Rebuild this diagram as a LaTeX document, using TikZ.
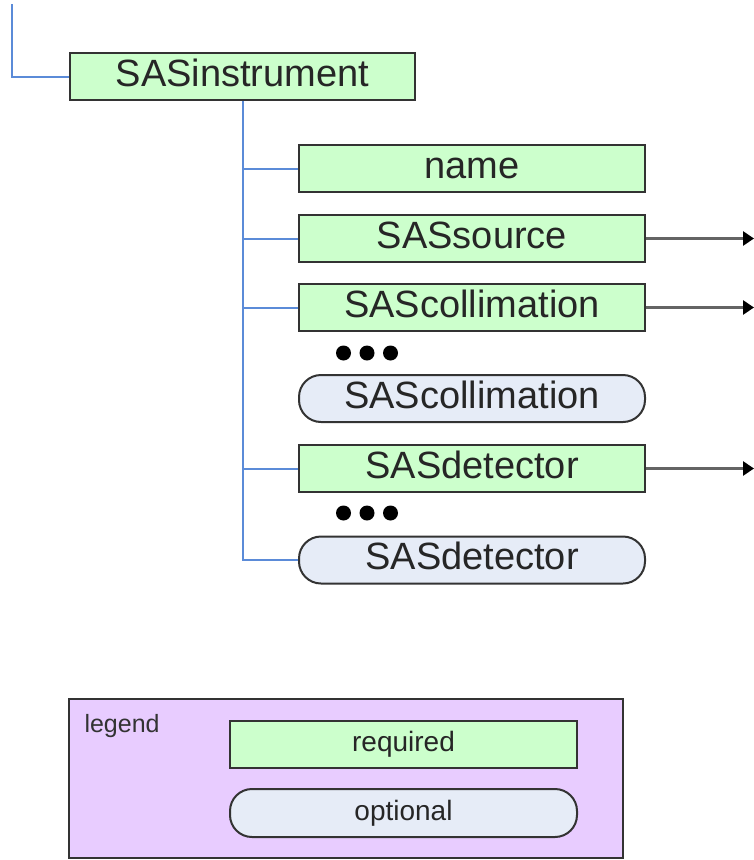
\documentclass[tikz,border=0pt]{standalone}
\usepackage{fontspec}
\setmainfont{Liberation Sans}
\usetikzlibrary{positioning, arrows.meta, calc}

\definecolor{reqgreen}{RGB}{204,255,204}
\definecolor{optblue}{RGB}{230,236,247}
\definecolor{legendlilac}{RGB}{232,204,255}
\definecolor{treeblue}{RGB}{91,139,216}
\definecolor{edgegray}{RGB}{51,51,51}
\definecolor{linkgray}{RGB}{100,100,100}

\begin{document}
\begin{tikzpicture}
    [
        x=1pt, y=-1pt,
        on grid,
        node distance=70pt and 70pt,
        req/.style={draw=edgegray, fill=reqgreen, rectangle, line width=2pt,
            minimum width=346pt, minimum height=47pt, inner sep=0pt,
            text height=28.5pt, text depth=9.5pt,
            font=\fontsize{38}{41}\selectfont, text=black!85},
        opt/.style={req, fill=optblue, rounded corners=22pt},
        smallreq/.style={req, minimum width=347pt, text height=21pt, text depth=7pt,
            font=\fontsize{28}{31}\selectfont},
        smallopt/.style={smallreq, fill=optblue, rounded corners=22pt, minimum height=48pt},
        tree/.style={draw=treeblue, line width=2pt},
        link/.style={draw=linkgray, line width=3pt,
            -{Triangle[length=11pt, width=14pt, color=black]}},
        ellip/.style={fill=black}
    ]
        \useasboundingbox (0,0) rectangle (753,860);
        % =========================================================================
        % NODES
        % =========================================================================
        % --- Parent ---
        \node [req, minimum width=345pt] (instr) at (242.5,76.5) {SASinstrument};
        \coordinate (root) at (12,4);
        % --- Children ---
        \node [req] (name) at (472,168.5) {name};
        \node [req, below=of name] (source) {SASsource};
        \node [req, below=69pt of source] (collim) {SAScollimation};
        \coordinate [below left=45.5pt and 105pt of collim] (dotsA);
        \node [opt, below=91pt of collim] (collimopt) {SAScollimation};
        \node [req, below=of collimopt] (detector) {SASdetector};
        \coordinate [below left=44.5pt and 105pt of detector] (dotsB);
        \node [opt, below=91.5pt of detector] (detectoropt) {SASdetector};
        % --- Legend ---
        \node [draw=edgegray, fill=legendlilac, line width=2pt, minimum width=554pt,
            minimum height=159pt] (legendbox) at (346,778.5) {};
        \node [anchor=base west, font=\fontsize{25}{28}\selectfont, text=black!80]
            (legendlabel) at ([xshift=13pt, yshift=-34pt]legendbox.north west) {legend};
        \node [smallreq] (legendreq) at (403.5,744.5) {required};
        \node [smallopt] (legendopt) at (403.5,813) {optional};

        % =========================================================================
        % PATHS
        % =========================================================================
        % --- TREE ---
        \draw [tree] (root) |- (instr.west);
        \draw [tree] (instr.south) |- (detectoropt.west);
        \foreach \child in {name, source, collim, detector}
            \draw [tree] (instr.south |- \child.west) -- (\child.west);
        % --- LINKS ---
        \foreach \child in {source, collim, detector} {
            \coordinate (\child-out) at ([xshift=108pt]\child.east);
            \draw [link] (\child.east) -- (\child-out);
        }
        % --- ELLIPSES ---
        \foreach \dx in {-23.5, 0, 23.5} {
            \fill [ellip] ([xshift=\dx pt]dotsA) circle (7.5);
            \fill [ellip] ([xshift=\dx pt]dotsB) circle (7.5);
        }

    \end{tikzpicture}
\end{document}
